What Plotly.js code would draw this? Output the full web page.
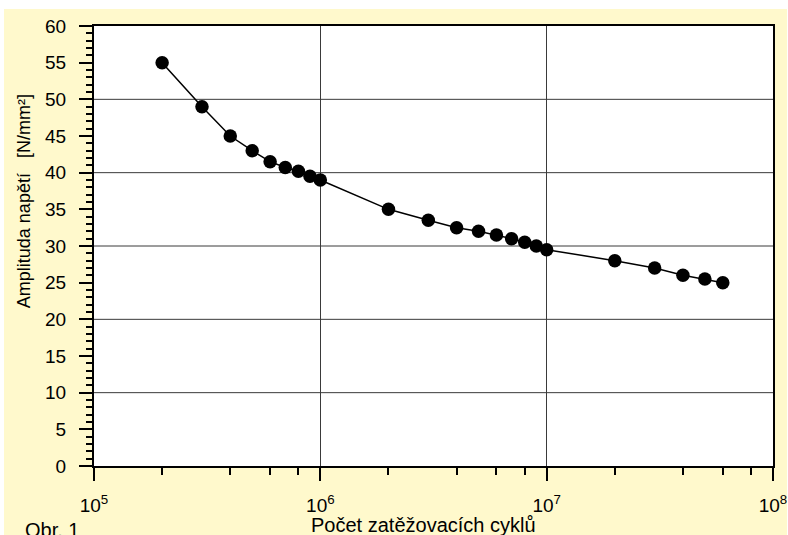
<!DOCTYPE html>
<html>
<head>
<meta charset="utf-8">
<script src="https://cdn.plot.ly/plotly-3.0.1.min.js"></script>
<style>
html,body{margin:0;padding:0;background:#ffffff;width:788px;height:535px;overflow:hidden;}
#chart{position:absolute;left:4px;top:9px;width:783px;height:526px;}
</style>
</head>
<body>
<div id="chart"></div>
<script>
// Data
const cycles = [2e5, 3e5, 4e5, 5e5, 6e5, 7e5, 8e5, 9e5, 1e6,
                2e6, 3e6, 4e6, 5e6, 6e6, 7e6, 8e6, 9e6, 1e7,
                2e7, 3e7, 4e7, 5e7, 6e7];
const amplitude = [55, 49, 45, 43, 41.5, 40.7, 40.2, 39.5, 39,
                   35, 33.5, 32.5, 32, 31.5, 31, 30.5, 30, 29.5,
                   28, 27, 26, 25.5, 25];
const xTickValues = [1e5, 1e6, 1e7, 1e8];
const xTickLabels = ['10<sup>5</sup>', '10<sup>6</sup>', '10<sup>7</sup>', '10<sup>8</sup>'];
const yGridValues = [10, 20, 30, 40, 50];
const xMinorTicks = [2e5, 4e5, 6e5, 8e5, 2e6, 4e6, 6e6, 8e6, 2e7, 4e7, 6e7, 8e7];
const xTitle = 'Počet zatěžovacích cyklů';
const yTitle = 'Amplituda napětí\u00A0\u00A0\u00A0[N/mm²]';
const figLabel = 'Obr. 1';

const FONT = 'Liberation Sans, Arial, sans-serif';

const trace = {
  x: cycles,
  y: amplitude,
  type: 'scatter',
  mode: 'lines+markers',
  line: {color: '#000000', width: 1.5},
  marker: {color: '#000000', size: 13.5},
  hoverinfo: 'x+y',
  showlegend: false
};

const shapes = yGridValues.map(v => ({
  type: 'line', xref: 'paper', yref: 'y',
  x0: 0, x1: 1, y0: v, y1: v,
  line: {color: '#3a3a3a', width: 1},
  layer: 'below'
}));

const layout = {
  width: 783,
  height: 526,
  margin: {l: 90, r: 14, t: 17, b: 69},
  paper_bgcolor: '#FFF9CC',
  plot_bgcolor: '#FFFFFF',
  font: {family: FONT, size: 19, color: '#000000'},
  showlegend: false,
  xaxis: {
    type: 'log',
    range: [5, 8],
    tickmode: 'array',
    tickvals: xTickValues,
    ticktext: xTickLabels,
    ticklabeloverflow: 'allow',
    showgrid: true,
    gridcolor: '#3a3a3a',
    gridwidth: 1,
    zeroline: false,
    showline: true,
    linecolor: '#000000',
    linewidth: 2,
    mirror: true,
    ticks: 'outside',
    ticklen: 13,
    tickwidth: 2,
    tickcolor: '#000000',
    ticklabelstandoff: 8,
    tickfont: {family: FONT, size: 19, color: '#000000'},
    minor: {
      tickmode: 'array',
      tickvals: xMinorTicks,
      ticks: 'outside',
      ticklen: 7,
      tickwidth: 2,
      tickcolor: '#000000',
      showgrid: false
    },
    fixedrange: true
  },
  yaxis: {
    range: [0, 60],
    dtick: 5,
    tick0: 0,
    showgrid: false,
    zeroline: false,
    showline: true,
    linecolor: '#000000',
    linewidth: 2,
    mirror: true,
    ticks: 'outside',
    ticklen: 13,
    tickwidth: 2,
    tickcolor: '#000000',
    ticklabelstandoff: 9,
    tickfont: {family: FONT, size: 19, color: '#000000'},
    minor: {
      dtick: 1,
      ticks: 'outside',
      ticklen: 6,
      tickwidth: 2,
      tickcolor: '#000000',
      showgrid: false
    },
    fixedrange: true
  },
  shapes: shapes,
  annotations: [
    {
      text: yTitle, xref: 'paper', yref: 'paper',
      x: -0.103, y: 0.602, xanchor: 'center', yanchor: 'middle',
      textangle: -90, showarrow: false,
      font: {family: FONT, size: 18, color: '#000000'}
    },
    {
      text: xTitle, xref: 'paper', yref: 'paper',
      x: 0.485, y: -0.134, xanchor: 'center', yanchor: 'middle',
      showarrow: false,
      font: {family: FONT, size: 20, color: '#000000'}
    },
    {
      text: figLabel, xref: 'paper', yref: 'paper',
      x: -0.105, y: -0.1455, xanchor: 'left', yanchor: 'middle',
      showarrow: false,
      font: {family: FONT, size: 20, color: '#000000'}
    }
  ]
};

Plotly.newPlot('chart', [trace], layout, {displayModeBar: false, staticPlot: true});
</script>
</body>
</html>
